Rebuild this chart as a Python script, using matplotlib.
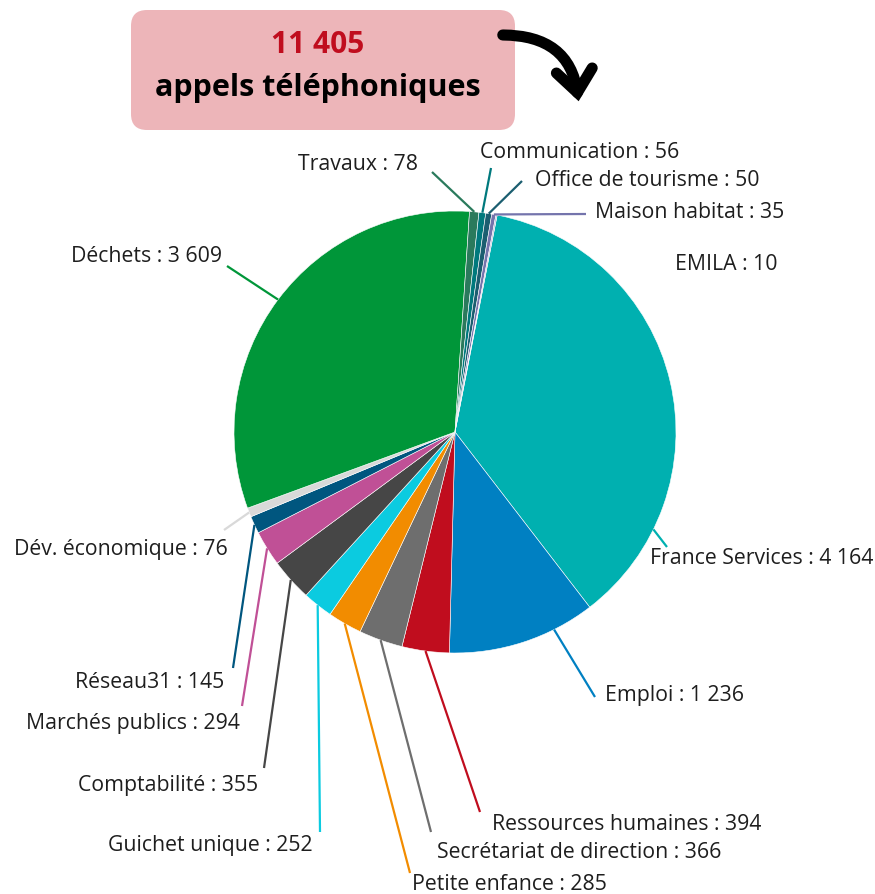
import numpy as np
import matplotlib.pyplot as plt
from matplotlib.patches import FancyBboxPatch, FancyArrowPatch

plt.rcParams['font.family'] = ['Open Sans', 'DejaVu Sans']

# --- data (clockwise from the top) ---
services = ['France Services', 'Emploi', 'Ressources humaines', 'Secrétariat de direction',
            'Petite enfance', 'Guichet unique', 'Comptabilité', 'Marchés publics',
            'Réseau31', 'Dév. économique', 'Déchets', 'Travaux', 'Communication',
            'Office de tourisme', 'Maison habitat', 'EMILA']
calls = [4164, 1236, 394, 366, 285, 252, 355, 294, 145, 76, 3609, 78, 56, 50, 35, 10]
colors = ['#00B0B0', '#0080C2', '#C00D1E', '#6E6E6E', '#F28C00', '#0BCBE0', '#464646',
          '#C05096', '#00567F', '#D9D9D9', '#009639', '#2A7A5C', '#00797D', '#1B5E70',
          '#7474AC', '#A8A8D0']
total_label = '11 405'

# label anchor (x, y, ha) and leader line end, in pixels
label_pos = [(650, 559, 'left'), (605, 695, 'left'), (492, 825, 'left'), (437, 853, 'left'),
             (412, 885, 'left'), (313, 846, 'right'), (258, 785, 'right'), (240, 723, 'right'),
             (224, 682, 'right'), (228, 549, 'right'), (222, 256, 'right'), (418, 165, 'right'),
             (480, 152, 'left'), (535, 180, 'left'), (595, 213, 'left'), (675, 264, 'left')]
line_end = [(667, 547), (595, 697), (480, 812), (431, 832), (410, 873), (320, 832),
            (264, 768), (242, 706), (233, 668), (224, 530), (227, 266), (432, 172),
            (491, 168), (522, 181), (586, 214), None]
# where the leader leaves the slice, as a fraction of the slice (0.5 = middle)
line_frac = [0.80, 0.28, 0.5, 0.5, 0.5, 0.5, 0.5, 0.5, 0.5, 0.5, 0.5, 0.5, 0.5, 0.5, 0.5, 0.5]


def fmt(v):
    return f'{v:,}'.replace(',', ' ')


W, H = 875, 894
fig = plt.figure(figsize=(W / 100, H / 100), dpi=100)
ax = fig.add_axes([0, 0, 1, 1])

cx, cy, r = 455, 432, 221
# y axis is inverted below, so visual clockwise = counterclock in data
wedges, _ = ax.pie(calls, colors=colors, center=(cx, cy), radius=r,
                   startangle=-79, counterclock=True,
                   wedgeprops=dict(edgecolor='white', linewidth=0.4))

for w, name, v, col, lp, le, fr in zip(wedges, services, calls, colors,
                                        label_pos, line_end, line_frac):
    a = np.deg2rad(w.theta1 + fr * (w.theta2 - w.theta1))
    sx, sy = cx + r * np.cos(a), cy + r * np.sin(a)
    if le is not None:
        ax.plot([sx, le[0]], [sy, le[1]], color=col, lw=1.6, solid_capstyle='butt')
    ax.text(lp[0], lp[1], f'{name} : {fmt(v)}', ha=lp[2], va='center',
            fontsize=15.3, color='#1e1e1e')

# header box
box = FancyBboxPatch((131, 10), 384, 120, boxstyle='round,pad=0,rounding_size=16',
                     facecolor='#EDB5B9', edgecolor='none')
ax.add_patch(box)
ax.text(318, 45, total_label, ha='center', va='center', fontsize=21.5,
        fontweight='bold', color='#C00D1E')
ax.text(318, 88, 'appels téléphoniques', ha='center', va='center', fontsize=22,
        fontweight='bold', color='black')

arrow = FancyArrowPatch((500, 35), (579, 104), connectionstyle='arc3,rad=-0.45',
                        arrowstyle='->,head_width=13,head_length=16', lw=8,
                        color='black', mutation_scale=1, capstyle='round',
                        joinstyle='miter')
ax.add_patch(arrow)

ax.set_xlim(0, W)
ax.set_ylim(H, 0)
ax.set_aspect('equal')
ax.axis('off')

fig.savefig('out.png', dpi=100, facecolor='white')
